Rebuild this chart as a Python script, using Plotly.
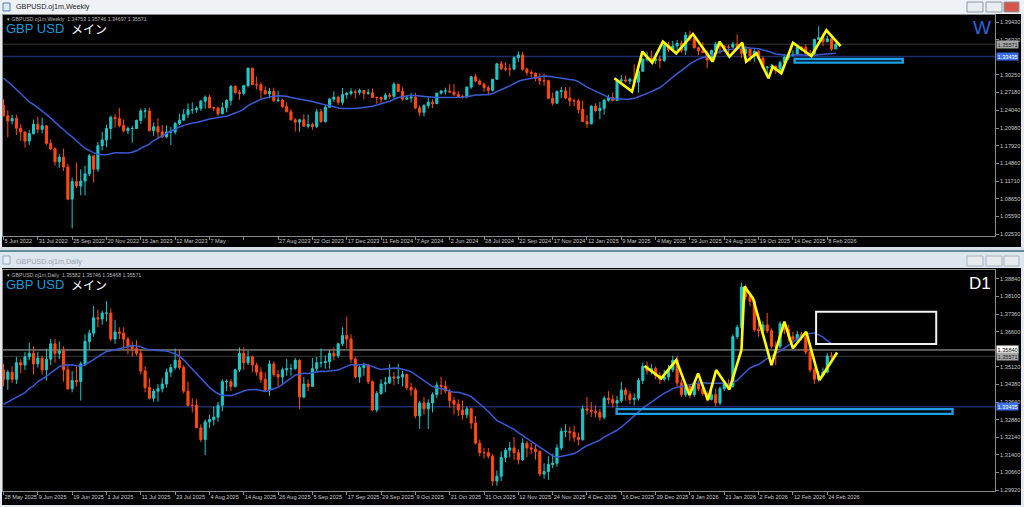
import plotly.graph_objects as go
import pandas as pd

# ---------------- WEEKLY (GBPUSD W1) ----------------
w_prev_close = [1.3400, 1.3530, 1.3560, 1.3590, 1.3410, 1.3255, 1.3035, 1.3180, 1.3185, 1.3115,
                1.3040, 1.3065, 1.2835, 1.2575, 1.2335, 1.2260, 1.2490, 1.2620, 1.2490]
w_close = [
    1.2310, 1.2220, 1.2265, 1.2095, 1.2030, 1.1870, 1.2000, 1.2165, 1.2075, 1.2135,
    1.1830, 1.1735, 1.1510, 1.1590, 1.1420, 1.0860, 1.1165, 1.1090, 1.1175, 1.1300,
    1.1615, 1.1380, 1.1790, 1.1890, 1.2090, 1.2285, 1.2260, 1.2140, 1.2050, 1.2090,
    1.2090, 1.2230, 1.2395, 1.2395, 1.2050, 1.2120, 1.2030, 1.1945, 1.2030, 1.2030,
    1.2175, 1.2235, 1.2335, 1.2415, 1.2415, 1.2440, 1.2565, 1.2635, 1.2450, 1.2445,
    1.2345, 1.2450, 1.2575, 1.2820, 1.2715, 1.2700, 1.2835, 1.3140, 1.2855, 1.2850,
    1.2750, 1.2690, 1.2735, 1.2575, 1.2585, 1.2470, 1.2380, 1.2240, 1.2200, 1.2240,
    1.2130, 1.2160, 1.2125, 1.2380, 1.2210, 1.2460, 1.2600, 1.2635, 1.2545, 1.2680,
    1.2700, 1.2730, 1.2720, 1.2750, 1.2700, 1.2710, 1.2630, 1.2630, 1.2600, 1.2670,
    1.2650, 1.2860, 1.2735, 1.2600, 1.2620, 1.2635, 1.2450, 1.2370, 1.2490, 1.2545,
    1.2525, 1.2705, 1.2740, 1.2740, 1.2725, 1.2685, 1.2645, 1.2645, 1.2810, 1.2990,
    1.2915, 1.2860, 1.2800, 1.2755, 1.2945, 1.3215, 1.3130, 1.3125, 1.3125, 1.3320,
    1.3370, 1.3120, 1.3065, 1.3050, 1.2960, 1.2920, 1.2920, 1.2615, 1.2530, 1.2735,
    1.2745, 1.2620, 1.2570, 1.2570, 1.2420, 1.2210, 1.2170, 1.2480, 1.2400, 1.2440,
    1.2580, 1.2630, 1.2575, 1.2920, 1.2935, 1.2915, 1.2945, 1.2895, 1.3085, 1.3295,
    1.3315, 1.3275, 1.3300, 1.3275, 1.3540, 1.3460, 1.3525, 1.3570, 1.3450, 1.3715,
    1.3655, 1.3495, 1.3440, 1.3410, 1.3280, 1.3450, 1.3555, 1.3525, 1.3505, 1.3505,
    1.3560, 1.3470, 1.3400, 1.3470, 1.3360, 1.3430, 1.3310, 1.3150, 1.3160, 1.3170,
    1.3100, 1.3235, 1.3325, 1.3360, 1.3380, 1.3505, 1.3500, 1.3395, 1.3395, 1.3640,
    1.3670, 1.3600, 1.3650, 1.34753, 1.35571]
w_high = [
    1.2600, 1.2405, 1.2325, 1.2330, 1.2165, 1.2000, 1.2065, 1.2245, 1.2295, 1.2275,
    1.2145, 1.1900, 1.1760, 1.1650, 1.1740, 1.1475, 1.1235, 1.1495, 1.1380, 1.1440,
    1.1645, 1.1615, 1.1855, 1.2030, 1.2155, 1.2310, 1.2345, 1.2445, 1.2245, 1.2125,
    1.2135, 1.2245, 1.2435, 1.2450, 1.2450, 1.2195, 1.2270, 1.2150, 1.2145, 1.2115,
    1.2205, 1.2345, 1.2425, 1.2525, 1.2545, 1.2475, 1.2585, 1.2665, 1.2680, 1.2470,
    1.2470, 1.2545, 1.2600, 1.2850, 1.2845, 1.2760, 1.2850, 1.3145, 1.3140, 1.2995,
    1.2890, 1.2820, 1.2795, 1.2800, 1.2745, 1.2605, 1.2545, 1.2425, 1.2270, 1.2260,
    1.2335, 1.2335, 1.2190, 1.2430, 1.2430, 1.2505, 1.2615, 1.2735, 1.2660, 1.2795,
    1.2730, 1.2790, 1.2770, 1.2785, 1.2760, 1.2775, 1.2785, 1.2645, 1.2645, 1.2710,
    1.2710, 1.2895, 1.2830, 1.2805, 1.2675, 1.2710, 1.2710, 1.2490, 1.2510, 1.2635,
    1.2595, 1.2710, 1.2760, 1.2800, 1.2860, 1.2860, 1.2740, 1.2680, 1.2820, 1.2995,
    1.3045, 1.2945, 1.2890, 1.2840, 1.2955, 1.3230, 1.3265, 1.3240, 1.3210, 1.3345,
    1.3435, 1.3420, 1.3150, 1.3105, 1.3065, 1.3045, 1.3045, 1.2940, 1.2715, 1.2750,
    1.2810, 1.2810, 1.2810, 1.2610, 1.2605, 1.2575, 1.2325, 1.2490, 1.2525, 1.2550,
    1.2605, 1.2675, 1.2715, 1.2945, 1.3015, 1.3015, 1.2970, 1.3205, 1.3145, 1.3315,
    1.3425, 1.3445, 1.3400, 1.3360, 1.3545, 1.3595, 1.3615, 1.3630, 1.3620, 1.3770,
    1.3790, 1.3680, 1.3515, 1.3590, 1.3450, 1.3460, 1.3595, 1.3560, 1.3545, 1.3550,
    1.3595, 1.3725, 1.3530, 1.3525, 1.3495, 1.3470, 1.3455, 1.3345, 1.3170, 1.3215,
    1.3190, 1.3270, 1.3385, 1.3410, 1.3450, 1.3535, 1.3520, 1.3560, 1.3455, 1.3650,
    1.3868, 1.3740, 1.3705, 1.3660, 1.35746]
w_low = [
    1.2300, 1.1934, 1.2160, 1.1975, 1.1875, 1.1760, 1.1805, 1.1985, 1.2005, 1.2005,
    1.1805, 1.1715, 1.1445, 1.1405, 1.1350, 1.0840, 1.0350, 1.1055, 1.0925, 1.0925,
    1.1260, 1.1150, 1.1335, 1.1710, 1.1765, 1.1900, 1.2105, 1.2110, 1.2020, 1.1990,
    1.1840, 1.2080, 1.2170, 1.2265, 1.2040, 1.1960, 1.1915, 1.1925, 1.1920, 1.1800,
    1.1985, 1.2150, 1.2220, 1.2275, 1.2345, 1.2365, 1.2395, 1.2435, 1.2440, 1.2390,
    1.2310, 1.2335, 1.2370, 1.2490, 1.2685, 1.2590, 1.2665, 1.2805, 1.2840, 1.2770,
    1.2620, 1.2680, 1.2615, 1.2550, 1.2545, 1.2445, 1.2370, 1.2230, 1.2035, 1.2035,
    1.2125, 1.2090, 1.2070, 1.2095, 1.2185, 1.2190, 1.2450, 1.2550, 1.2500, 1.2500,
    1.2610, 1.2665, 1.2610, 1.2670, 1.2595, 1.2675, 1.2620, 1.2520, 1.2535, 1.2590,
    1.2610, 1.2615, 1.2730, 1.2575, 1.2590, 1.2540, 1.2425, 1.2300, 1.2300, 1.2440,
    1.2445, 1.2510, 1.2680, 1.2680, 1.2715, 1.2655, 1.2620, 1.2610, 1.2615, 1.2780,
    1.2895, 1.2845, 1.2730, 1.2665, 1.2735, 1.2935, 1.3105, 1.3085, 1.3000, 1.3105,
    1.3250, 1.3090, 1.3010, 1.2975, 1.2910, 1.2845, 1.2835, 1.2600, 1.2485, 1.2520,
    1.2615, 1.2600, 1.2475, 1.2475, 1.2350, 1.2200, 1.2100, 1.2160, 1.2370, 1.2250,
    1.2330, 1.2555, 1.2560, 1.2575, 1.2895, 1.2890, 1.2860, 1.2845, 1.2710, 1.3070,
    1.3250, 1.3260, 1.3210, 1.3140, 1.3245, 1.3415, 1.3440, 1.3455, 1.3405, 1.3370,
    1.3610, 1.3480, 1.3365, 1.3400, 1.3140, 1.3255, 1.3410, 1.3390, 1.3430, 1.3335,
    1.3490, 1.3465, 1.3320, 1.3395, 1.3250, 1.3250, 1.3290, 1.3125, 1.3010, 1.3100,
    1.3035, 1.3085, 1.3180, 1.3285, 1.3340, 1.3370, 1.3440, 1.3380, 1.3365, 1.3345,
    1.3630, 1.3520, 1.3590, 1.3440, 1.34697]
w_tick_bars = list(range(0, 193, 8))
w_tick_labels = ["5 Jun 2022", "31 Jul 2022", "25 Sep 2022", "20 Nov 2022", "15 Jan 2023",
                 "12 Mar 2023", "7 May :", "", "27 Aug 2023", "22 Oct 2023", "17 Dec 2023",
                 "11 Feb 2024", "7 Apr 2024", "2 Jun 2024", "28 Jul 2024", "22 Sep 2024",
                 "17 Nov 2024", "12 Jan 2025", "9 Mar 2025", "4 May 2025", "29 Jun 2025",
                 "24 Aug 2025", "19 Oct 2025", "14 Dec 2025", "8 Feb 2026"]
w_price_ticks = [1.39430, 1.36320, 1.30250, 1.27180, 1.24040, 1.20980, 1.17920,
                 1.14860, 1.11710, 1.08650, 1.05590, 1.02530]
w_zig_bar = [142.4, 146.5, 148.9, 151.2, 153.7, 156.8, 160.7, 165.3, 166.9, 169.2,
             172.2, 173.1, 175.5, 178.3, 179.3, 181.3, 184.0, 188.3, 191.8, 195.1]
w_zig_price = [1.2963, 1.2731, 1.3427, 1.3235, 1.3601, 1.3398, 1.3734, 1.3253, 1.3601, 1.3340,
               1.3583, 1.3253, 1.3398, 1.2963, 1.3166, 1.3050, 1.3583, 1.3351, 1.3799, 1.3524]
w_zone_bars = [184.4, 209.6]
w_zone_prices = [1.3236, 1.3299]

# ---------------- DAILY (GBPUSD D1) ----------------
d_prev_close = [1.3280, 1.3275, 1.3300, 1.3355, 1.3345, 1.3235, 1.3300, 1.3180, 1.3310, 1.3300,
                1.3300, 1.3275, 1.3360, 1.3380, 1.3410, 1.3420, 1.3540, 1.3550, 1.3500]
d_close = [
    1.3460, 1.3490, 1.3460, 1.3530, 1.3520, 1.3555, 1.3570, 1.3525, 1.3550, 1.3500,
    1.3545, 1.3610, 1.3570, 1.3580, 1.3500, 1.3420, 1.3455, 1.3450, 1.3525, 1.3620,
    1.3655, 1.3720, 1.3715, 1.3740, 1.3740, 1.3630, 1.3660, 1.3655, 1.3630, 1.3600,
    1.3590, 1.3570, 1.3495, 1.3425, 1.3380, 1.3410, 1.3420, 1.3440, 1.3490, 1.3510,
    1.3540, 1.3510, 1.3410, 1.3350, 1.3350, 1.3255, 1.3205, 1.3280, 1.3290, 1.3300,
    1.3350, 1.3450, 1.3450, 1.3430, 1.3500, 1.3570, 1.3530, 1.3555, 1.3520, 1.3490,
    1.3460, 1.3415, 1.3525, 1.3480, 1.3470, 1.3500, 1.3505, 1.3505, 1.3540, 1.3385,
    1.3440, 1.3430, 1.3505, 1.3530, 1.3530, 1.3535, 1.3570, 1.3560, 1.3610, 1.3645,
    1.3630, 1.3545, 1.3470, 1.3510, 1.3520, 1.3450, 1.3330, 1.3400, 1.3440, 1.3445,
    1.3470, 1.3465, 1.3470, 1.3480, 1.3425, 1.3415, 1.3305, 1.3360, 1.3335, 1.3360,
    1.3395, 1.3435, 1.3430, 1.3410, 1.3370, 1.3355, 1.3330, 1.3310, 1.3335, 1.3275,
    1.3190, 1.3150, 1.3150, 1.3135, 1.3030, 1.3050, 1.3130, 1.3160, 1.3170, 1.3150,
    1.3120, 1.3190, 1.3170, 1.3165, 1.3155, 1.3060, 1.3070, 1.3100, 1.3105, 1.3170,
    1.3240, 1.3240, 1.3235, 1.3215, 1.3205, 1.3335, 1.3330, 1.3325, 1.3320, 1.3300,
    1.3380, 1.3375, 1.3360, 1.3370, 1.3415, 1.3395, 1.3375, 1.3380, 1.3455, 1.3515,
    1.3495, 1.3505, 1.3475, 1.3460, 1.3470, 1.3500, 1.3540, 1.3445, 1.3395, 1.3430,
    1.3395, 1.3440, 1.3420, 1.3400, 1.3375, 1.3395, 1.3360, 1.3420, 1.3440, 1.3430,
    1.3640, 1.3680, 1.3850, 1.3810, 1.3790, 1.3670, 1.3665, 1.3690, 1.3665, 1.3600,
    1.3600, 1.3695, 1.3670, 1.3640, 1.3630, 1.3650, 1.3640, 1.3575, 1.3500, 1.3460,
    1.34753, 1.3490, 1.35582, 1.35571]
d_high = [
    1.3525, 1.3500, 1.3515, 1.3555, 1.3545, 1.3575, 1.3615, 1.3600, 1.3575, 1.3560,
    1.3590, 1.3630, 1.3630, 1.3620, 1.3600, 1.3525, 1.3495, 1.3515, 1.3535, 1.3650,
    1.3670, 1.3770, 1.3755, 1.3750, 1.3790, 1.3760, 1.3710, 1.3680, 1.3680, 1.3640,
    1.3620, 1.3625, 1.3585, 1.3515, 1.3465, 1.3420, 1.3440, 1.3465, 1.3505, 1.3525,
    1.3590, 1.3585, 1.3520, 1.3450, 1.3380, 1.3375, 1.3270, 1.3290, 1.3310, 1.3345,
    1.3365, 1.3460, 1.3460, 1.3460, 1.3505, 1.3595, 1.3595, 1.3580, 1.3560, 1.3530,
    1.3510, 1.3490, 1.3540, 1.3535, 1.3500, 1.3510, 1.3545, 1.3525, 1.3550, 1.3545,
    1.3470, 1.3460, 1.3550, 1.3555, 1.3590, 1.3560, 1.3585, 1.3595, 1.3615, 1.3680,
    1.3725, 1.3650, 1.3555, 1.3520, 1.3530, 1.3525, 1.3455, 1.3410, 1.3460, 1.3470,
    1.3525, 1.3490, 1.3525, 1.3495, 1.3485, 1.3445, 1.3425, 1.3370, 1.3385, 1.3375,
    1.3405, 1.3450, 1.3470, 1.3455, 1.3420, 1.3385, 1.3375, 1.3370, 1.3345, 1.3340,
    1.3305, 1.3205, 1.3170, 1.3170, 1.3145, 1.3075, 1.3155, 1.3170, 1.3195, 1.3215,
    1.3165, 1.3210, 1.3200, 1.3190, 1.3185, 1.3160, 1.3105, 1.3135, 1.3145, 1.3185,
    1.3255, 1.3270, 1.3260, 1.3265, 1.3235, 1.3350, 1.3385, 1.3365, 1.3350, 1.3335,
    1.3390, 1.3410, 1.3395, 1.3390, 1.3450, 1.3425, 1.3410, 1.3400, 1.3465, 1.3530,
    1.3535, 1.3525, 1.3515, 1.3490, 1.3500, 1.3520, 1.3560, 1.3560, 1.3460, 1.3445,
    1.3440, 1.3450, 1.3455, 1.3430, 1.3410, 1.3410, 1.3420, 1.3430, 1.3455, 1.3460,
    1.3650, 1.3690, 1.3868, 1.3860, 1.3825, 1.3800, 1.3700, 1.3705, 1.3740, 1.3675,
    1.3620, 1.3705, 1.3700, 1.3690, 1.3660, 1.3665, 1.3660, 1.3660, 1.3590, 1.3510,
    1.3495, 1.3510, 1.3570, 1.35746]
d_low = [
    1.3430, 1.3415, 1.3445, 1.3440, 1.3485, 1.3500, 1.3540, 1.3480, 1.3510, 1.3480,
    1.3455, 1.3520, 1.3530, 1.3545, 1.3450, 1.3415, 1.3405, 1.3430, 1.3370, 1.3515,
    1.3585, 1.3640, 1.3680, 1.3690, 1.3705, 1.3620, 1.3610, 1.3630, 1.3585, 1.3565,
    1.3555, 1.3560, 1.3480, 1.3405, 1.3375, 1.3365, 1.3365, 1.3405, 1.3425, 1.3470,
    1.3500, 1.3500, 1.3400, 1.3345, 1.3320, 1.3255, 1.3195, 1.3140, 1.3255, 1.3265,
    1.3280, 1.3325, 1.3410, 1.3410, 1.3425, 1.3490, 1.3500, 1.3520, 1.3490, 1.3475,
    1.3445, 1.3410, 1.3390, 1.3470, 1.3430, 1.3440, 1.3475, 1.3475, 1.3500, 1.3335,
    1.3380, 1.3410, 1.3435, 1.3490, 1.3510, 1.3505, 1.3505, 1.3540, 1.3550, 1.3600,
    1.3590, 1.3530, 1.3465, 1.3445, 1.3475, 1.3440, 1.3325, 1.3320, 1.3395, 1.3405,
    1.3440, 1.3435, 1.3440, 1.3430, 1.3415, 1.3390, 1.3295, 1.3250, 1.3310, 1.3250,
    1.3320, 1.3380, 1.3395, 1.3400, 1.3340, 1.3310, 1.3305, 1.3290, 1.3295, 1.3250,
    1.3185, 1.3135, 1.3125, 1.3125, 1.3010, 1.3010, 1.3030, 1.3110, 1.3130, 1.3120,
    1.3100, 1.3115, 1.3130, 1.3145, 1.3120, 1.3050, 1.3040, 1.3035, 1.3085, 1.3090,
    1.3160, 1.3215, 1.3200, 1.3195, 1.3180, 1.3200, 1.3310, 1.3300, 1.3300, 1.3285,
    1.3290, 1.3355, 1.3340, 1.3340, 1.3360, 1.3370, 1.3355, 1.3350, 1.3370, 1.3440,
    1.3480, 1.3480, 1.3460, 1.3440, 1.3450, 1.3455, 1.3490, 1.3430, 1.3385, 1.3385,
    1.3380, 1.3385, 1.3410, 1.3390, 1.3365, 1.3370, 1.3345, 1.3350, 1.3410, 1.3415,
    1.3425, 1.3630, 1.3670, 1.3795, 1.3770, 1.3660, 1.3640, 1.3650, 1.3655, 1.3590,
    1.3520, 1.3590, 1.3650, 1.3620, 1.3615, 1.3615, 1.3625, 1.3565, 1.3490, 1.3440,
    1.3450, 1.34697, 1.3485, 1.35468]
d_tick_bars = list(range(0, 193, 8))
d_tick_labels = ["28 May 2025", "9 Jun 2025", "19 Jun 2025", "1 Jul 2025", "11 Jul 2025",
                 "23 Jul 2025", "4 Aug 2025", "14 Aug 2025", "26 Aug 2025", "5 Sep 2025",
                 "17 Sep 2025", "29 Sep 2025", "9 Oct 2025", "21 Oct 2025", "31 Oct 2025",
                 "12 Nov 2025", "24 Nov 2025", "4 Dec 2025", "16 Dec 2025", "29 Dec 2025",
                 "9 Jan 2026", "21 Jan 2026", "2 Feb 2026", "12 Feb 2026", "24 Feb 2026"]
d_price_ticks = [1.38840, 1.38100, 1.37360, 1.36600, 1.35120, 1.34380, 1.33640,
                 1.32880, 1.32140, 1.31400, 1.30660, 1.29920]
d_zig_bar = [149.4, 153.3, 156.8, 159.9, 161.9, 164.2, 166.1, 169.2, 172.0, 172.7,
             174.7, 179.0, 182.0, 184.0, 187.1, 190.2, 194.3]
d_zig_price = [1.3516, 1.3464, 1.3541, 1.3393, 1.3485, 1.3372, 1.3499, 1.3417, 1.3584, 1.3852,
               1.3802, 1.3520, 1.3704, 1.3591, 1.3661, 1.3457, 1.3573]
d_zone_bars = [142.9, 221.2]
d_zone_prices = [1.3314, 1.3334]
d_box_bars = [189.4, 217.4]
d_box_prices = [1.3609, 1.3745]

bid_price = 1.35571
level_price = 1.33435
d_level2_price = 1.35840
ma_period = 20

UP, DOWN = "#1fc7c7", "#ff4a12"
MA_COL = "#3a5ad6"
GRID_TXT = "#c8c8c8"
FRAME = "#8a8a8a"
PH = 507.0
PW = 1024.0


def py(p):
    return 1 - p / PH


def px(p):
    return p / PW


def candles(close, high, low, prev_close, xa, ya):
    opens = [prev_close[-1]] + close[:-1]
    hi = [max(h, o, c) for h, o, c in zip(high, opens, close)]
    lo = [min(l, o, c) for l, o, c in zip(low, opens, close)]
    bars = list(range(len(close)))
    return go.Candlestick(
        x=bars, open=opens, high=hi, low=lo, close=close, xaxis=xa, yaxis=ya,
        increasing=dict(line=dict(color=UP, width=1), fillcolor=UP),
        decreasing=dict(line=dict(color=DOWN, width=1), fillcolor=DOWN),
        whiskerwidth=0, hoverinfo="skip", showlegend=False)


def ma(close, prev_close, xa, ya):
    s = pd.Series(prev_close + close).rolling(ma_period).mean().iloc[len(prev_close):]
    return go.Scatter(x=list(range(len(close))), y=s.tolist(), mode="lines",
                      line=dict(color=MA_COL, width=1.5), xaxis=xa, yaxis=ya,
                      hoverinfo="skip", showlegend=False)


def zig(bars, prices, xa, ya):
    return go.Scatter(x=bars, y=prices, mode="lines", line=dict(color="#ffff00", width=2.6),
                      xaxis=xa, yaxis=ya, hoverinfo="skip", showlegend=False)


fig = go.Figure()
fig.add_trace(candles(w_close, w_high, w_low, w_prev_close, "x", "y"))
fig.add_trace(ma(w_close, w_prev_close, "x", "y"))
fig.add_trace(zig(w_zig_bar, w_zig_price, "x", "y"))
fig.add_trace(candles(d_close, d_high, d_low, d_prev_close, "x2", "y2"))
fig.add_trace(ma(d_close, d_prev_close, "x2", "y2"))
fig.add_trace(zig(d_zig_bar, d_zig_price, "x2", "y2"))

XR = [-0.12, 231.1]
tickfont = dict(family="Liberation Sans, Arial", size=5.6, color=GRID_TXT)


def xax(vals, labels, anchor):
    return dict(domain=[px(3), px(995)], range=XR, anchor=anchor, showline=True, mirror=True,
                linecolor=FRAME, linewidth=1, ticks="outside", ticklen=3, tickcolor=FRAME,
                tickvals=vals, ticktext=labels, tickfont=tickfont, ticklabelposition="outside right",
                tickangle=0, automargin=False,
                showgrid=False, zeroline=False, rangeslider=dict(visible=False), fixedrange=True)


def yax(vals, rng, dom, anchor):
    return dict(domain=dom, range=rng, anchor=anchor, side="right", showline=True, mirror=True,
                linecolor=FRAME, linewidth=1, ticks="outside", ticklen=3, tickcolor=FRAME,
                tickvals=vals, ticktext=["%.5f" % v for v in vals], tickfont=tickfont,
                automargin=False, showgrid=False, zeroline=False, fixedrange=True)


shapes = []


def rect(x0, y0, x1, y1, fill, line=None, lw=0):
    shapes.append(dict(type="rect", xref="paper", yref="paper", x0=px(x0), x1=px(x1),
                       y0=py(y1), y1=py(y0), fillcolor=fill, layer="below",
                       line=dict(width=lw, color=line or fill)))


# window chrome
rect(0, 0, 1024, 14, "#eef2f6")
rect(2, 14, 1021, 247, "#000000")
rect(0, 247, 1024, 250, "#d7dee6")
rect(0, 250, 1024, 252, "#5e8f9a")
rect(0, 252, 1024, 268, "#dde5ee")
rect(2, 268, 1021, 505, "#000000")
# window icons and buttons
rect(3, 3, 10, 11, "#dfe9f5", "#4d7fbf", 1)
rect(3, 256, 10, 264, "#e6edf4", "#8fa9c6", 1)
for bx0, bx1, col in [(967, 983, "#e9edf1"), (986, 1002, "#e9edf1"), (1004, 1019, "#d4574a")]:
    rect(bx0, 2, bx1, 12, col, "#8b97a3", 1)
for bx0, bx1 in [(967, 983), (986, 1002), (1004, 1019)]:
    rect(bx0, 256, bx1, 266, "#e6ebf0", "#a9b3bd", 1)


def hline(price, col, yref, w=1):
    shapes.append(dict(type="line", xref=yref.replace("y", "x") + " domain", yref=yref,
                       x0=0, x1=1, y0=price, y1=price, line=dict(color=col, width=w), layer="below"))


hline(bid_price, "#3a3a3a", "y")
hline(level_price, "#1f2d66", "y", 1.5)
hline(d_level2_price, "#b4b4b4", "y2")
hline(bid_price, "#3a3a3a", "y2")
hline(level_price, "#1f2d66", "y2", 1.5)


def zone(bars, prices, xref, yref, col, w):
    shapes.append(dict(type="rect", xref=xref, yref=yref, x0=bars[0], x1=bars[1],
                       y0=prices[0], y1=prices[1], line=dict(color=col, width=w),
                       fillcolor="rgba(0,0,0,0)", layer="above"))


zone(w_zone_bars, w_zone_prices, "x", "y", "#1e9ee6", 2.4)
zone(d_zone_bars, d_zone_prices, "x2", "y2", "#1e9ee6", 2.4)
zone(d_box_bars, d_box_prices, "x2", "y2", "#f2f2f2", 2)

ann = []


def text(x, y, s, size, col, fam="Liberation Sans, Arial", xanchor="left"):
    ann.append(dict(xref="paper", yref="paper", x=px(x), y=py(y), text=s, showarrow=False,
                    xanchor=xanchor, yanchor="middle", font=dict(family=fam, size=size, color=col)))


text(14, 7, "GBPUSD.oj1m,Weekly", 7.2, "#202020")
text(14, 261, "GBPUSD.oj1m,Daily", 7.2, "#9aa3ad")
text(5, 19.5, "▾ GBPUSD.oj1m,Weekly  1.34753 1.35746 1.34697 1.35571", 5.2, "#b8b8b8")
text(5, 275, "▾ GBPUSD.oj1m,Daily  1.35582 1.35746 1.35468 1.35571", 5.2, "#b8b8b8")
for yy in (28.5, 284):
    text(4, yy, "GBP USD", 13, "#1a9ad8")
    text(69, yy, "メイン", 12, "#ffffff", fam="Noto Sans CJK JP")
text(993, 27, "W", 19, "#2f62dc", xanchor="right")
text(993, 283, "D1", 17, "#ffffff", xanchor="right")


def plabel(price, yref, bg, fg):
    ann.append(dict(xref="paper", yref=yref, x=px(996), y=price, text="%.5f" % price,
                    showarrow=False, xanchor="left", yanchor="middle", bgcolor=bg, borderpad=0.5,
                    font=dict(family="Liberation Sans, Arial", size=5.6, color=fg)))


plabel(bid_price, "y", "#a6a6a6", "#202020")
plabel(level_price, "y", "#3c6fe3", "#ffffff")
plabel(d_level2_price, "y2", "#ffffff", "#000000")
plabel(bid_price, "y2", "#a6a6a6", "#202020")
plabel(level_price, "y2", "#3c6fe3", "#ffffff")

fig.update_layout(
    width=1024, height=507, margin=dict(l=0, r=0, t=0, b=0, pad=0),
    paper_bgcolor="#e3e9ef", plot_bgcolor="#000000", showlegend=False, hovermode=False,
    boxgap=0.3,
    xaxis=xax(w_tick_bars, w_tick_labels, "y"),
    yaxis=yax(w_price_ticks, [1.02269, 1.40648], [py(235.5), py(15)], "x"),
    xaxis2=xax(d_tick_bars, d_tick_labels, "y2"),
    yaxis2=yax(d_price_ticks, [1.29878, 1.39220], [py(491), py(270)], "x2"),
    shapes=shapes, annotations=ann,
)
fig.write_html("out.html", config={"displayModeBar": False},
               post_script="document.body.style.margin='0';document.body.style.padding='0';"
                           "document.body.style.overflow='hidden';")
